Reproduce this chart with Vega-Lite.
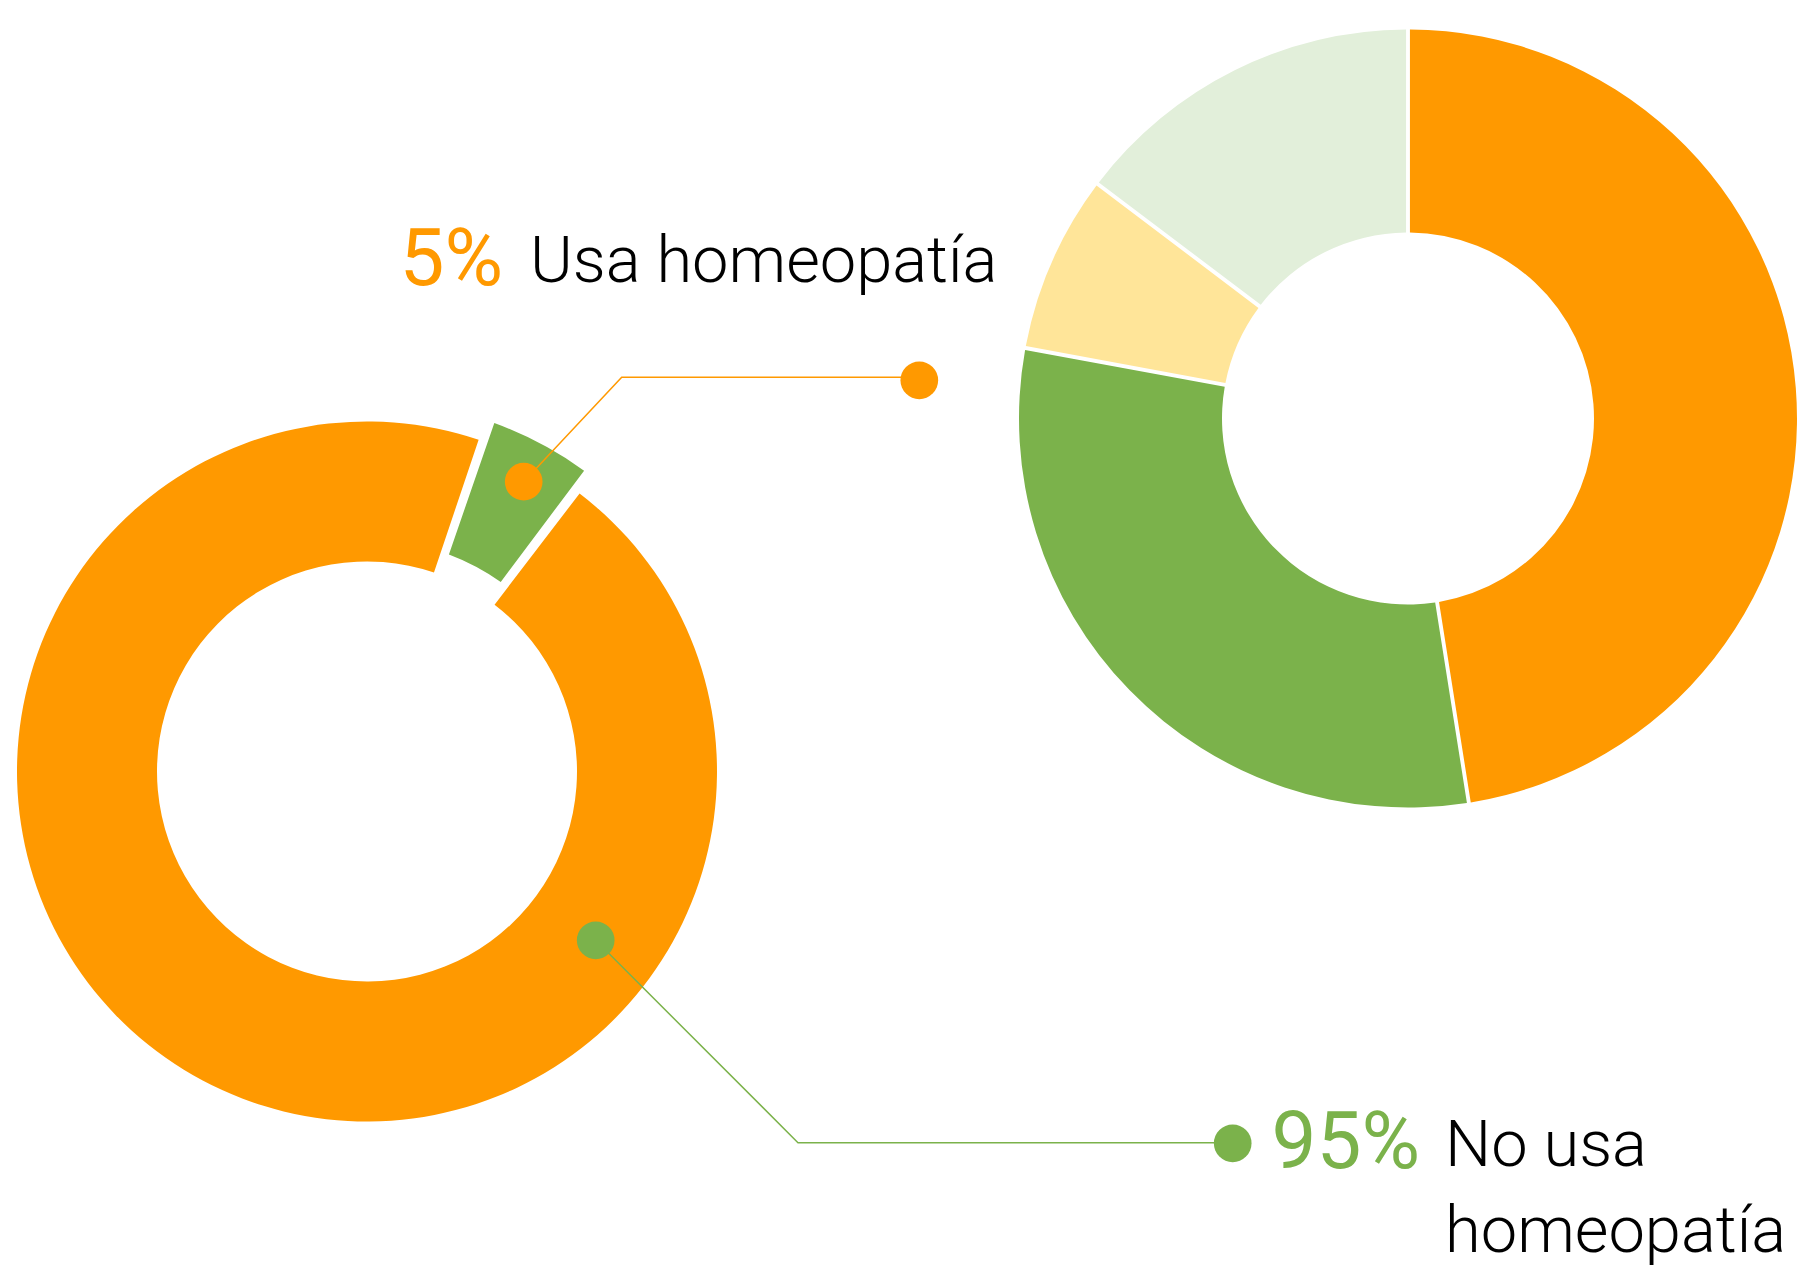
{
  "$schema": "https://vega.github.io/schema/vega-lite/v6.json",
  "width": 1798,
  "height": 1267,
  "padding": 0,
  "autosize": {"type": "none"},
  "background": "white",
  "config": {"view": {"stroke": null}},
  "datasets": {
    "uso": [
      {"grupo": "Usa homeopatía", "pct": 5, "orden": 1, "cx": 367, "cy": 771.5},
      {"grupo": "No usa homeopatía", "pct": 95, "orden": 2, "cx": 367, "cy": 771.5}
    ],
    "otro": [
      {"segmento": "Segmento 1", "pct": 47.5, "orden": 1, "cx": 1408, "cy": 418.5},
      {"segmento": "Segmento 2", "pct": 30.4, "orden": 2, "cx": 1408, "cy": 418.5},
      {"segmento": "Segmento 3", "pct": 7.4, "orden": 3, "cx": 1408, "cy": 418.5},
      {"segmento": "Segmento 4", "pct": 14.7, "orden": 4, "cx": 1408, "cy": 418.5}
    ],
    "conectores": [
      {"grupo": "Usa homeopatía", "orden": 1, "x": 523.7, "y": 481.7},
      {"grupo": "Usa homeopatía", "orden": 2, "x": 621.7, "y": 377.3},
      {"grupo": "Usa homeopatía", "orden": 3, "x": 919.3, "y": 377.3},
      {"grupo": "No usa homeopatía", "orden": 1, "x": 595.7, "y": 940.3},
      {"grupo": "No usa homeopatía", "orden": 2, "x": 798, "y": 1142.7},
      {"grupo": "No usa homeopatía", "orden": 3, "x": 1232.7, "y": 1142.7}
    ],
    "puntos": [
      {"grupo": "Usa homeopatía", "x": 523.7, "y": 481.7},
      {"grupo": "Usa homeopatía", "x": 919.3, "y": 380.3},
      {"grupo": "No usa homeopatía", "x": 595.7, "y": 940.3},
      {"grupo": "No usa homeopatía", "x": 1232.7, "y": 1143.3}
    ],
    "porcentajes": [
      {"grupo": "Usa homeopatía", "texto": "5%", "x": 503, "y": 285},
      {"grupo": "No usa homeopatía", "texto": "95%", "x": 1420, "y": 1168}
    ],
    "etiquetas": [
      {"texto": "Usa homeopatía", "x": 530, "y": 282},
      {"texto": "No usa\nhomeopatía", "x": 1445, "y": 1166}
    ]
  },
  "encoding": {
    "x": {"field": "x", "type": "quantitative", "scale": {"domain": [0, 1798]}, "axis": null},
    "y": {"field": "y", "type": "quantitative", "scale": {"domain": [0, 1267], "reverse": true}, "axis": null}
  },
  "layer": [
    {
      "data": {"name": "otro"},
      "transform": [
        {"stack": "pct", "groupby": [], "sort": [{"field": "orden"}], "as": ["t0", "t1"]}
      ],
      "mark": {"type": "arc", "radius": 389, "radius2": 186, "padAngle": 0.009},
      "encoding": {
        "x": {"field": "cx", "type": "quantitative", "scale": {"domain": [0, 1798]}, "axis": null},
        "y": {"field": "cy", "type": "quantitative", "scale": {"domain": [0, 1267], "reverse": true}, "axis": null},
        "theta": {"field": "t0", "type": "quantitative", "scale": {"domain": [0, 100], "range": [0, 6.2832]}},
        "theta2": {"field": "t1"},
        "color": {
          "field": "segmento", "type": "nominal", "legend": null,
          "scale": {"domain": ["Segmento 1", "Segmento 2", "Segmento 3", "Segmento 4"], "range": ["#FF9900", "#7BB24B", "#FFE599", "#E2EFDA"]}
        }
      }
    },
    {
      "data": {"name": "uso"},
      "transform": [
        {"stack": "pct", "groupby": [], "sort": [{"field": "orden"}], "as": ["t0", "t1"]},
        {"filter": "datum.grupo === 'No usa homeopatía'"}
      ],
      "mark": {"type": "arc", "radius": 350, "radius2": 210, "thetaOffset": 0.014, "color": "#FF9900"},
      "encoding": {
        "x": {"field": "cx", "type": "quantitative", "scale": {"domain": [0, 1798]}, "axis": null},
        "y": {"field": "cy", "type": "quantitative", "scale": {"domain": [0, 1267], "reverse": true}, "axis": null},
        "theta": {"field": "t0", "type": "quantitative", "scale": {"domain": [0, 100], "range": [0.3246, 6.6078]}},
        "theta2": {"field": "t1"}
      }
    },
    {
      "data": {"name": "uso"},
      "transform": [
        {"stack": "pct", "groupby": [], "sort": [{"field": "orden"}], "as": ["t0", "t1"]},
        {"filter": "datum.grupo === 'Usa homeopatía'"}
      ],
      "mark": {"type": "arc", "radius": 371, "radius2": 232, "padAngle": 0.03, "thetaOffset": 0.008, "theta2Offset": 0.004, "color": "#7BB24B"},
      "encoding": {
        "x": {"field": "cx", "type": "quantitative", "scale": {"domain": [0, 1798]}, "axis": null},
        "y": {"field": "cy", "type": "quantitative", "scale": {"domain": [0, 1267], "reverse": true}, "axis": null},
        "theta": {"field": "t0", "type": "quantitative", "scale": {"domain": [0, 100], "range": [0.3246, 6.6078]}},
        "theta2": {"field": "t1"}
      }
    },
    {
      "data": {"name": "conectores"},
      "mark": {"type": "line", "strokeWidth": 1.5},
      "encoding": {
        "order": {"field": "orden", "type": "quantitative"},
        "color": {
          "field": "grupo", "type": "nominal", "legend": null,
          "scale": {"domain": ["Usa homeopatía", "No usa homeopatía"], "range": ["#FF9900", "#7BB24B"]}
        }
      }
    },
    {
      "data": {"name": "puntos"},
      "mark": {"type": "circle", "size": 1420, "opacity": 1},
      "encoding": {
        "color": {
          "field": "grupo", "type": "nominal", "legend": null,
          "scale": {"domain": ["Usa homeopatía", "No usa homeopatía"], "range": ["#FF9900", "#7BB24B"]}
        }
      }
    },
    {
      "data": {"name": "porcentajes"},
      "mark": {"type": "text", "align": "right", "baseline": "alphabetic", "fontSize": 80, "font": "Roboto"},
      "encoding": {
        "text": {"field": "texto"},
        "color": {
          "field": "grupo", "type": "nominal", "legend": null,
          "scale": {"domain": ["Usa homeopatía", "No usa homeopatía"], "range": ["#FF9900", "#7BB24B"]}
        }
      }
    },
    {
      "data": {"name": "etiquetas"},
      "mark": {"type": "text", "align": "left", "baseline": "alphabetic", "fontSize": 65, "fontWeight": 300, "lineBreak": "\n", "lineHeight": 86, "color": "#000000", "font": "Roboto"},
      "encoding": {
        "text": {"field": "texto"}
      }
    }
  ],
  "resolve": {"scale": {"theta": "independent", "color": "independent"}}
}
